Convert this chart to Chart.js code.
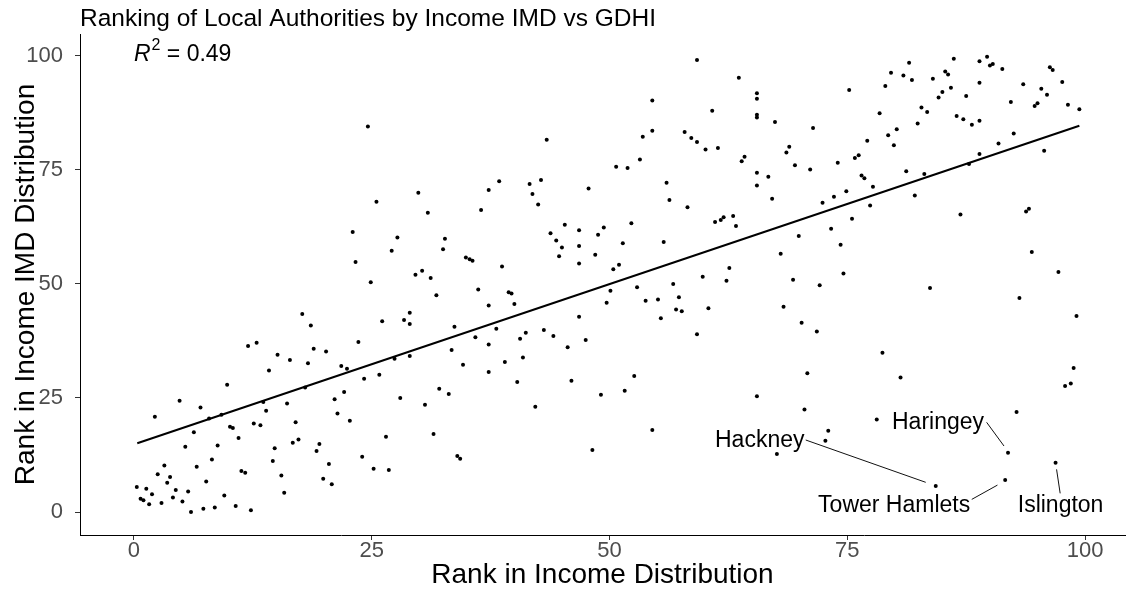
<!DOCTYPE html>
<html>
<head>
<meta charset="utf-8">
<title>Ranking of Local Authorities by Income IMD vs GDHI</title>
<script src="https://cdn.jsdelivr.net/npm/chart.js@4.4.1/dist/chart.umd.min.js"></script>
<style>
  html, body { margin: 0; padding: 0; background: #ffffff; }
  canvas { display: block; }
</style>
</head>
<body>
<canvas id="chart" width="1129" height="590"></canvas>
<script>
// Rank of each local authority in the income (GDHI) distribution
const rankIncome = [
  14.2, 9.8, 24.2, 4.8, 7.0, 2.2, 7.9, 9.2, 13.6, 13.9, 16.1, 18.0, 21.1, 22.1, 21.4, 22.7,
  6.3, 10.1, 10.4, 11.0, 12.6, 13.3, 17.0, 16.7, 17.3, 19.5, 19.2, 5.4, 8.8, 14.8, 14.6, 8.2,
  6.6, 3.2, 2.5, 3.8, 3.5, 7.6, 11.3, 11.7, 15.5, 20.5, 19.9, 20.8, 24.0, 25.2, 15.8, 0.3,
  1.3, 1.9, 0.7, 1.0, 1.6, 2.9, 4.1, 4.4, 5.1, 5.7, 6.0, 7.3, 8.5, 9.5, 10.7, 12.3,
  23.0, 23.3, 24.9, 17.7, 18.6, 12.0, 12.9, 23.6, 15.1, 18.9, 20.2, 16.4, 18.3, 21.8, 22.4, 24.6,
  43.4, 50.7, 25.5, 29.9, 37.3, 38.4, 41.6, 42.8, 41.9, 42.5, 47.8, 36.5, 30.9, 27.7, 27.1, 32.7,
  32.5, 34.9, 35.3, 35.6, 38.7, 29.6, 30.3, 31.2, 31.8, 36.2, 39.4, 39.7, 40.0, 37.3, 43.8, 44.4,
  45.3, 45.0, 44.7, 46.8, 46.8, 46.8, 48.8, 49.4, 48.5, 51.4, 51.0, 50.4, 50.1, 49.7, 46.8, 26.1,
  28.4, 29.0, 29.0, 33.7, 38.1, 35.9, 37.3, 33.4, 40.6, 41.2, 43.1, 44.1, 47.5, 45.6, 40.9, 39.0,
  34.6, 27.4, 29.0, 25.8, 37.3, 40.3, 46.0, 49.1, 51.6, 32.1, 33.1, 28.0, 30.6, 42.2, 31.5, 26.5,
  34.0, 34.3, 48.2, 26.8, 59.2, 63.6, 65.5, 65.5, 65.5, 65.5, 67.4, 60.8, 54.5, 54.5, 53.5, 53.2,
  51.9, 57.9, 58.6, 59.2, 60.1, 61.4, 63.9, 64.2, 65.5, 66.7, 65.5, 67.1, 56.0, 56.3, 58.2, 71.4,
  68.9, 68.6, 69.5, 71.1, 75.2, 77.1, 76.2, 75.8, 74.0, 76.5, 76.8, 77.7, 74.9, 73.6, 72.4, 77.4,
  86.2, 89.7, 88.9, 90.0, 90.3, 91.3, 81.5, 79.6, 80.9, 81.8, 79.0, 84.0, 85.3, 85.6, 85.9, 85.0,
  84.6, 88.9, 87.5, 78.4, 82.8, 83.4, 82.4, 79.3, 80.2, 79.9, 86.5, 87.2, 88.1, 88.9, 93.5, 92.2,
  96.3, 96.6, 97.6, 95.4, 96.0, 95.0, 94.7, 98.2, 99.4, 92.5, 90.9, 88.9, 87.8, 95.7, 81.2, 83.1,
  82.1, 94.1, 52.3, 55.7, 61.1, 61.7, 62.0, 63.0, 63.3, 69.9, 68.0, 73.3, 74.3, 75.5, 74.6, 72.1,
  69.3, 62.6, 62.3, 59.8, 56.7, 52.9, 57.3, 53.8, 55.1, 57.0, 57.6, 60.4, 55.4, 59.2, 68.3, 70.2,
  71.8, 86.9, 93.8, 94.4, 97.2, 83.7, 93.1, 99.1, 78.7, 98.8, 52.6, 70.8, 65.5, 70.5, 54.5, 73.0,
  72.7, 67.6, 80.6, 97.9, 98.5, 92.8, 78.1
];

// Rank of the same local authorities in the income IMD distribution
const rankIMD = [
  31.0, 27.9, 29.2, 24.4, 22.9, 20.9, 20.5, 21.3, 24.1, 22.2, 23.8, 27.3, 24.7, 26.3, 21.6, 20.0,
  17.5, 18.7, 18.4, 16.2, 19.4, 19.0, 19.7, 15.2, 15.9, 14.9, 13.4, 14.3, 14.6, 14.0, 11.2, 11.5,
  9.9, 10.2, 8.3, 7.7, 6.4, 6.7, 9.0, 8.6, 8.0, 10.5, 7.3, 6.1, 12.1, 9.5, 4.2, 5.5,
  5.1, 3.9, 2.9, 2.6, 1.7, 2.0, 3.2, 4.8, 2.3, 4.5, 0.0, 0.7, 1.0, 3.6, 1.3, 0.4,
  61.4, 54.8, 50.4, 43.4, 40.9, 36.4, 37.1, 37.3, 34.5, 35.8, 35.2, 33.3, 32.6, 32.0, 31.4, 84.5,
  81.6, 75.7, 68.0, 70.0, 70.6, 72.5, 71.9, 72.8, 69.7, 67.4, 70.9, 66.2, 65.6, 60.2, 57.3, 59.9,
  57.6, 55.8, 55.4, 55.1, 53.8, 52.0, 52.9, 51.3, 47.5, 48.8, 48.2, 47.9, 45.6, 45.3, 61.1, 59.5,
  63.0, 58.0, 56.1, 61.8, 58.3, 54.5, 60.8, 62.4, 56.4, 58.9, 54.2, 53.2, 48.5, 45.9, 42.8, 41.8,
  42.1, 43.7, 41.2, 40.6, 40.2, 38.3, 36.7, 35.5, 38.0, 39.3, 39.9, 38.6, 37.7, 36.1, 33.9, 32.9,
  32.3, 33.6, 34.2, 30.1, 30.7, 28.5, 28.8, 25.7, 26.6, 27.0, 25.9, 25.0, 23.5, 23.1, 17.1, 16.5,
  12.3, 11.7, 13.6, 9.2, 99.1, 95.2, 91.8, 90.6, 87.1, 86.5, 85.5, 88.0, 90.2, 83.6, 82.3, 77.3,
  75.4, 83.3, 82.0, 81.1, 79.5, 79.8, 76.9, 77.9, 74.4, 73.5, 71.6, 68.7, 72.2, 68.4, 66.8, 84.2,
  80.1, 78.8, 76.0, 75.1, 92.5, 81.4, 78.2, 77.6, 76.6, 73.8, 73.2, 71.3, 70.3, 69.1, 67.8, 67.2,
  99.4, 99.8, 98.8, 97.9, 98.2, 97.1, 98.5, 96.3, 95.7, 94.7, 93.4, 95.0, 96.6, 95.9, 93.0, 92.1,
  90.9, 94.1, 91.2, 87.4, 88.7, 87.7, 85.2, 82.6, 83.9, 80.4, 86.8, 86.1, 84.9, 85.8, 93.8, 89.9,
  97.5, 96.9, 94.3, 92.8, 91.5, 89.6, 89.0, 89.3, 88.3, 83.0, 80.8, 78.5, 76.3, 79.2, 74.7, 74.1,
  69.4, 66.5, 63.3, 59.2, 63.6, 64.0, 64.6, 64.9, 62.7, 60.5, 56.6, 62.1, 58.6, 64.3, 52.3, 49.7,
  50.9, 53.5, 50.7, 51.6, 50.0, 49.3, 47.1, 46.3, 46.6, 44.4, 44.0, 44.7, 42.5, 39.0, 45.0, 41.5,
  39.6, 65.2, 65.9, 57.0, 52.6, 49.1, 46.9, 43.0, 34.9, 31.6, 29.8, 30.4, 25.4, 22.5, 18.0, 17.8,
  15.6, 12.7, 29.5, 27.6, 28.2, 21.9, 20.3
];

// Named local authorities
const labelNames  = ['Hackney', 'Tower Hamlets', 'Haringey', 'Islington'];
const labelIncome = [84.3, 91.6, 91.9, 96.9];
const labelIMD    = [5.7, 7.0, 13.0, 10.8];

// Linear fit through the points (end points of the fitted line)
const fitIncome = [0.35, 99.4];
const fitIMD    = [15.07, 84.7];
const rSquared  = 0.49;

const xTicks = [0, 25, 50, 75, 100];
const yTicks = [0, 25, 50, 75, 100];

const chartTitle = 'Ranking of Local Authorities by Income IMD vs GDHI';
const xTitle = 'Rank in Income Distribution';
const yTitle = 'Rank in Income IMD Distribution';

const FONT = '"Liberation Sans", Arial, Helvetica, sans-serif';
Chart.defaults.font.family = FONT;

const points = rankIncome.map((v, i) => ({ x: v, y: rankIMD[i] }))
  .concat(labelIncome.map((v, i) => ({ x: v, y: labelIMD[i] })));
const fitLine = fitIncome.map((v, i) => ({ x: v, y: fitIMD[i] }));

// Text placement for the named points: label centre/baseline offset and leader segment (px, relative to the point)
const labelLayout = {
  'Hackney':       { dx: -176, dy: -39, seg: [-130, -46, -10, -3.7] },
  'Tower Hamlets': { dx: -111, dy: 32,  seg: [-33.4, 19.3, -7.7, 5] },
  'Haringey':      { dx: -70,  dy: -24, seg: [-21.4, -30.4, -4, -6.7] },
  'Islington':     { dx: 5,    dy: 49,  seg: [1, 6.6, 4.6, 30.6] }
};

const annotations = {
  id: 'annotations',
  afterDatasetsDraw(chart) {
    const { ctx, chartArea, scales } = chart;
    const xs = scales.x, ys = scales.y;
    ctx.save();
    ctx.fillStyle = '#000';
    ctx.textBaseline = 'alphabetic';

    // Title
    ctx.textAlign = 'left';
    ctx.font = '24.5px ' + FONT;
    ctx.fillText(chartTitle, chartArea.left, 26);

    // R squared
    let rx = xs.getPixelForValue(0);
    const rBase = 61;
    ctx.font = 'italic 23px ' + FONT;
    ctx.fillText('R', rx, rBase);
    rx += ctx.measureText('R').width + 1;
    ctx.font = '16px ' + FONT;
    ctx.fillText('2', rx, rBase - 11);
    rx += ctx.measureText('2').width;
    ctx.font = '23px ' + FONT;
    ctx.fillText(' = ' + rSquared.toFixed(2), rx, rBase);

    // Axis titles
    ctx.font = '28px ' + FONT;
    ctx.textAlign = 'center';
    ctx.fillText(xTitle, (chartArea.left + chartArea.right) / 2, 583);
    ctx.save();
    ctx.translate(34, (chartArea.top + chartArea.bottom) / 2);
    ctx.rotate(-Math.PI / 2);
    ctx.fillText(yTitle, 0, 0);
    ctx.restore();

    // Named points: leader segments and labels
    ctx.font = '23px ' + FONT;
    ctx.textAlign = 'center';
    ctx.strokeStyle = '#111';
    ctx.lineWidth = 1;
    labelNames.forEach((name, i) => {
      const px = xs.getPixelForValue(labelIncome[i]);
      const py = ys.getPixelForValue(labelIMD[i]);
      const L = labelLayout[name];
      ctx.beginPath();
      ctx.moveTo(px + L.seg[0], py + L.seg[1]);
      ctx.lineTo(px + L.seg[2], py + L.seg[3]);
      ctx.stroke();
      ctx.fillText(name, px + L.dx, py + L.dy);
    });
    ctx.restore();
  }
};

const axisGrid = { drawOnChartArea: false, drawTicks: true, tickLength: 5, color: '#333', tickColor: '#333' };
const axisBorder = { display: true, color: '#000', width: 1 };

new Chart(document.getElementById('chart'), {
  type: 'scatter',
  data: {
    datasets: [
      {
        type: 'line',
        data: fitLine,
        borderColor: '#000',
        borderWidth: 2,
        pointRadius: 0,
        fill: false,
        order: 0
      },
      {
        data: points,
        backgroundColor: '#000',
        borderWidth: 0,
        pointRadius: 2,
        order: 1
      }
    ]
  },
  options: {
    responsive: false,
    animation: false,
    devicePixelRatio: 1,
    layout: { padding: { top: 34, right: 2, left: 0, bottom: 0 } },
    plugins: { legend: { display: false }, tooltip: { enabled: false }, title: { display: false } },
    scales: {
      x: {
        type: 'linear',
        min: -5.67,
        max: 104.2,
        afterBuildTicks: s => { s.ticks = xTicks.map(v => ({ value: v })); },
        afterFit: s => { s.height = 55; },
        ticks: { font: { size: 22 }, color: '#4d4d4d', padding: -2, maxRotation: 0, autoSkip: false },
        grid: axisGrid,
        border: axisBorder
      },
      y: {
        type: 'linear',
        min: -5.04,
        max: 104.8,
        afterBuildTicks: s => { s.ticks = yTicks.map(v => ({ value: v })); },
        afterFit: s => { s.width = 80; },
        ticks: { font: { size: 22 }, color: '#4d4d4d', padding: 12, autoSkip: false },
        grid: axisGrid,
        border: axisBorder
      }
    }
  },
  plugins: [annotations]
});
</script>
</body>
</html>
